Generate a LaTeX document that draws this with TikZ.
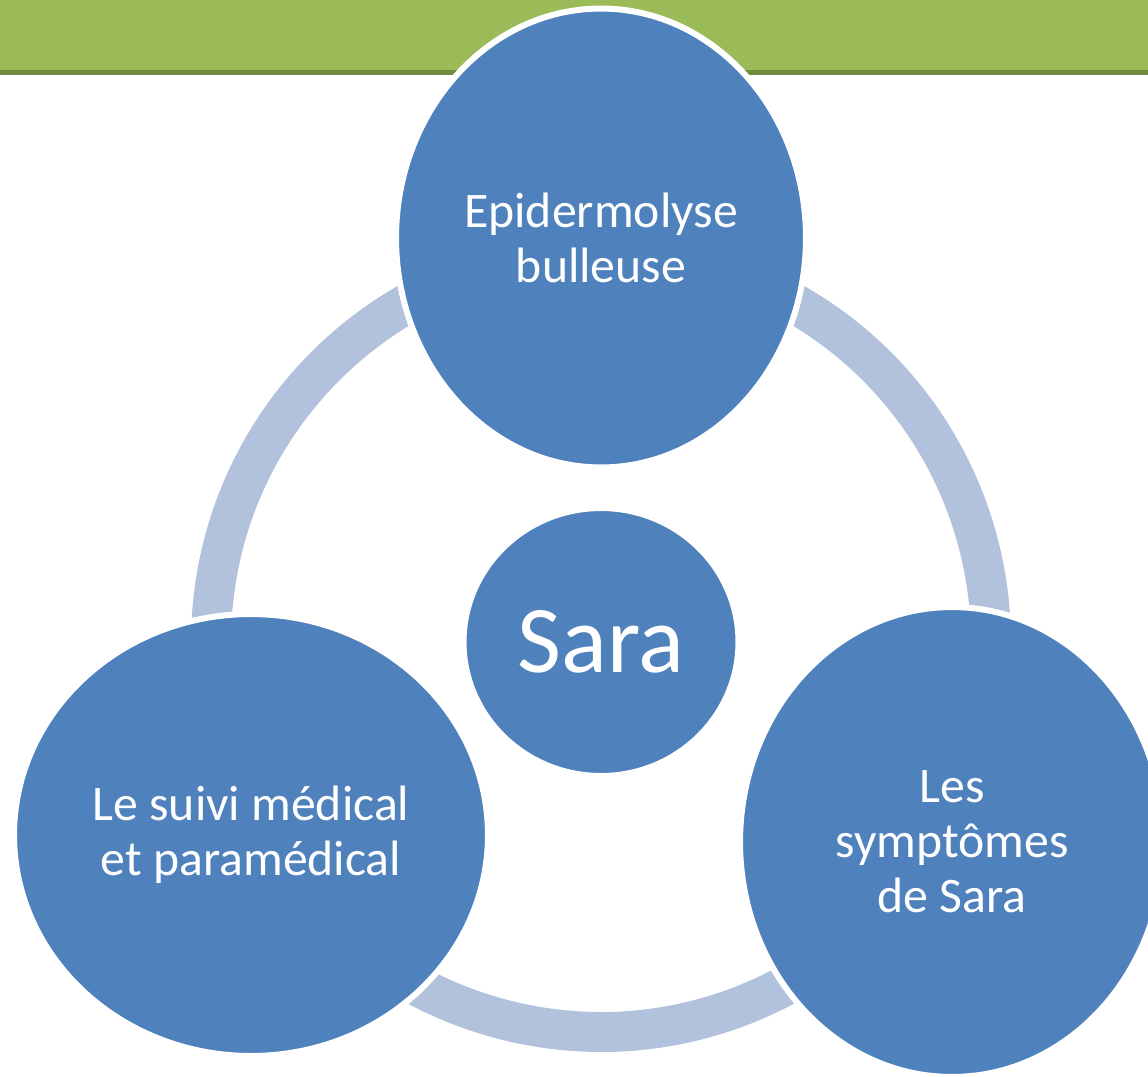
\documentclass[tikz,border=0pt]{standalone}
\usepackage{fontspec}
\setmainfont{Carlito}
\usetikzlibrary{shapes.geometric}

\definecolor{barGreen}{HTML}{9BBB59}
\definecolor{barEdge}{HTML}{718B3F}
\definecolor{bubbleBlue}{HTML}{4F81BD}
\definecolor{ringBlue}{HTML}{B2C1DC}

\tikzset{
    bubble/.style={ellipse, fill=bubbleBlue, draw=white, line width=0.12cm,
        inner sep=0pt, text=white, align=center,
        font=\fontsize{28.3}{31.2}\selectfont},
    ringarc/.style={draw=ringBlue, line width=0.8cm}
}

\begin{document}
\begin{tikzpicture}[x=0.02cm, y=-0.02cm]
    \useasboundingbox (0,0) rectangle (1148,1077);

    % title bar
    \fill[barGreen] (0,0) rectangle (1148,71);
    \fill[barEdge] (0,70) rectangle (1148,75);

    \coordinate (hub) at (601,642);

    % ring between the bubbles
    \draw[ringarc] ([shift={(90:7.8cm)}]hub) arc[start angle=90, end angle=209, radius=7.8cm];
    \draw[ringarc] ([shift={(209:7.8cm)}]hub) arc[start angle=209, end angle=330, radius=7.8cm];
    \draw[ringarc] ([shift={(330:7.8cm)}]hub) arc[start angle=330, end angle=450, radius=7.8cm];

    \node[bubble, minimum width=8.2cm, minimum height=9.18cm] (ebul) at (601,238) {Epidermolyse\\bulleuse};
    \node[bubble, minimum width=9.48cm, minimum height=8.84cm] (suivi) at (251,835) {Le suivi médical\\et paramédical};
    \node[bubble, minimum width=8.48cm, minimum height=9.4cm] (sympt) at (952,842) {Les\\symptômes\\de Sara};

    \node[bubble, minimum width=5.5cm, minimum height=5.36cm,
        font=\fontsize{54.4}{60}\selectfont] (sara) at (hub) {Sara};
\end{tikzpicture}
\end{document}
